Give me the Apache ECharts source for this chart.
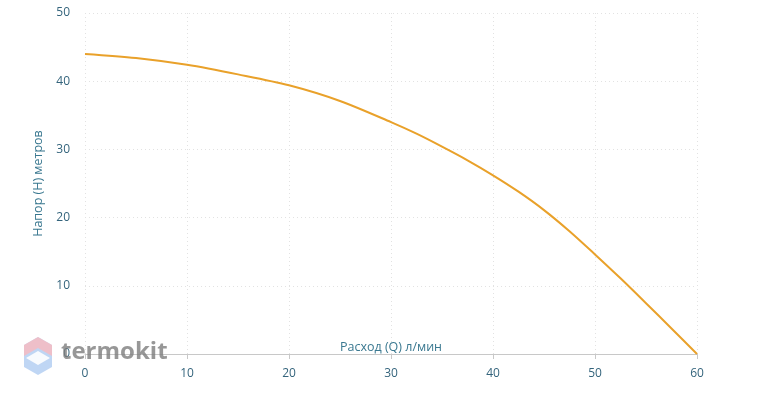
<!DOCTYPE html>
<html><head><meta charset="utf-8">
<script src="https://cdn.jsdelivr.net/npm/echarts@6/dist/echarts.min.js"></script>
<style>html,body{margin:0;padding:0;background:#fff}#c{width:766px;height:402px}</style>
</head><body><div id="c"></div>
<script>
const flowQ = [0, 5, 10, 15, 20, 25, 30, 32.5, 35, 37.5, 40, 42.5, 45, 47.5, 50, 52.5, 55, 57.5, 60];
const headH = [44, 43.4, 42.4, 41.0, 39.4, 37.1, 34.0, 32.3, 30.4, 28.4, 26.2, 23.8, 21.1, 18.0, 14.6, 11.1, 7.45, 3.75, 0];
const xTicks = [0, 10, 20, 30, 40, 50, 60];
const yTicks = [0, 10, 20, 30, 40, 50];

const chart = echarts.init(document.getElementById('c'));
const labelColor = '#34647c';
chart.setOption({
  animation: false,
  grid: {left: 85, right: 69, top: 13, bottom: 48},
  xAxis: {
    type: 'value', min: xTicks[0], max: xTicks[xTicks.length-1], interval: 10,
    name: 'Расход (Q) л/мин', nameLocation: 'middle', nameGap: -13, nameMoveOverlap: false,
    nameTextStyle: {color: '#3a7890', fontSize: 12.5, fontFamily: 'Open Sans'},
    axisLine: {show: true, lineStyle: {color: '#c8c8c8'}},
    axisTick: {show: true, length: 5, lineStyle: {color: '#c8c8c8'}},
    axisLabel: {color: labelColor, fontSize: 12, fontFamily: 'Open Sans', margin: 14},
    splitLine: {show: true, lineStyle: {color: '#e2e2e2', type: [1, 3]}}
  },
  yAxis: {
    type: 'value', min: yTicks[0], max: yTicks[yTicks.length-1], interval: 10,
    name: 'Напор (Н) метров', nameLocation: 'middle', nameGap: 39, nameRotate: 90,
    nameTextStyle: {color: '#3a7890', fontSize: 12.5, fontFamily: 'Open Sans'},
    axisLine: {show: false}, axisTick: {show: false},
    axisLabel: {color: labelColor, fontSize: 12, fontFamily: 'Open Sans', margin: 15},
    splitLine: {show: true, lineStyle: {color: '#e2e2e2', type: [1, 3]}}
  },
  series: [{
    type: 'line', smooth: 0.3, symbol: 'none',
    data: flowQ.map((q, i) => [q, headH[i]]),
    lineStyle: {color: '#e9a12a', width: 2}
  }],
  graphic: [
    {type: 'polygon', z: 100, shape: {points: [[38,337],[52,345],[52,367],[38,375],[24,367],[24,345]]}, style: {fill: 'rgba(170,200,240,0.75)'}},
    {type: 'polygon', z: 101, shape: {points: [[38,337],[52,345],[52,356],[38,348],[24,356],[24,345]]}, style: {fill: 'rgba(250,185,190,0.8)'}},
    {type: 'polygon', z: 101, shape: {points: [[38,351],[50,358],[38,365],[26,358]]}, style: {fill: 'rgba(255,255,255,0.9)'}},
    {type: 'text', z: 102, left: 61, top: 340, style: {text: 'termokit', fill: 'rgba(125,125,125,0.8)', font: 'bold 24px "Open Sans"'}}
  ]
});
</script></body></html>
